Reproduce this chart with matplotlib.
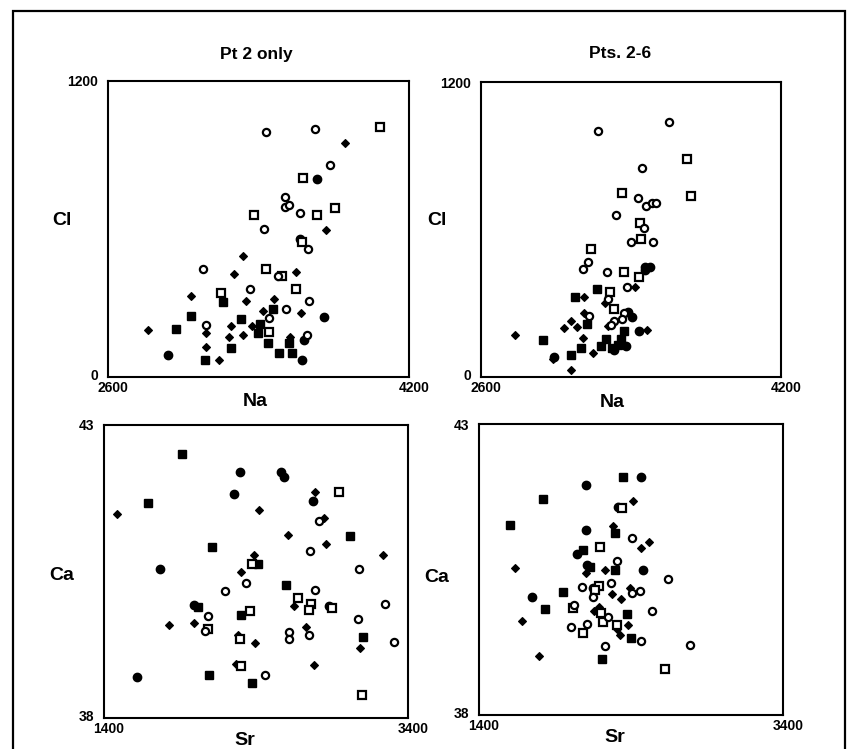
import numpy as np
import matplotlib.pyplot as plt
from matplotlib.patches import Rectangle
from matplotlib.transforms import ScaledTranslation

plt.rcParams['font.family'] = ['Liberation Sans', 'DejaVu Sans']
plt.rcParams['font.weight'] = 'bold'

# ---- Cl vs Na, Pt 2 only ----
p1_open_circle = [(3438, 992), (3700, 1007), (3779, 858), (3539, 729), (3539, 688),
                  (3561, 697), (3621, 666), (3428, 599), (3662, 519), (3107, 439),
                  (3669, 308), (3456, 238), (3119, 210), (3356, 358), (3548, 277),
                  (3656, 169), (3504, 408)]
p1_open_square = [(4046, 1015), (3638, 807), (3378, 657), (3709, 656), (3807, 686),
                  (3440, 439), (3523, 408), (3598, 357), (3199, 339), (3456, 181),
                  (3630, 549)]
p1_filled_square = [(3211, 305), (3040, 246), (2961, 195), (3309, 236), (3477, 276),
                    (3406, 216), (3399, 180), (3254, 119), (3449, 137), (3561, 138),
                    (3511, 97), (3578, 97), (3116, 70)]
p1_filled_circle = [(3709, 804), (3621, 559), (3750, 244), (2917, 88), (3631, 68),
                    (3642, 150)]
p1_diamond = [(3861, 947), (3759, 597), (3319, 491), (3271, 419), (3601, 427),
              (3040, 330), (3334, 308), (3484, 317), (3426, 268), (3628, 258),
              (2813, 191), (3254, 207), (3364, 207), (3121, 180), (3245, 161),
              (3316, 169), (3121, 120), (3192, 70), (3568, 162)]

# ---- Cl vs Na, Pts. 2-6 ----
p2_open_circle = [(3224, 1002), (3601, 1039), (3460, 850), (3439, 728), (3478, 696),
                  (3510, 707), (3533, 707), (3320, 658), (3471, 607), (3400, 549),
                  (3519, 549), (3172, 469), (3146, 438), (3274, 427), (3379, 367),
                  (3279, 316), (3178, 248), (3364, 259), (3350, 236), (3311, 227),
                  (3293, 213)]
p2_open_square = [(3697, 887), (3718, 735), (3352, 749), (3448, 626), (3452, 561),
                  (3185, 521), (3363, 427), (3444, 407), (3288, 346), (3309, 277)]
p2_filled_circle = [(3473, 449), (3503, 449), (3476, 435), (3441, 188), (3372, 127),
                    (3311, 110), (2989, 80), (3386, 264), (3404, 245)]
p2_filled_square = [(3220, 357), (3103, 327), (3164, 216), (3361, 188), (3265, 156),
                    (2929, 149), (3132, 117), (3242, 126), (3347, 153), (3329, 130),
                    (3300, 117), (3078, 88)]
p2_diamond = [(2781, 170), (3151, 327), (3420, 367), (3261, 300), (3151, 259),
              (3078, 228), (3041, 199), (3110, 205), (3142, 159), (3199, 99),
              (3082, 27), (3487, 191), (3276, 209), (2982, 72)]

# ---- Ca vs Sr, Pt 2 only ----
p3_filled_square = [(1911, 42.50), (1691, 41.66), (2113, 40.91), (3018, 41.10),
                    (2595, 40.27), (2411, 40.62), (2020, 39.89), (2299, 39.75),
                    (3102, 39.38), (2091, 38.73), (2376, 38.59)]
p3_open_square = [(2944, 41.85), (2376, 40.62), (2674, 40.05), (2760, 39.95),
                  (2749, 39.84), (2902, 39.87), (2361, 39.83), (2082, 39.51),
                  (2295, 39.34), (2301, 38.88), (3095, 38.40)]
p3_filled_circle = [(2297, 42.19), (2563, 42.19), (2584, 42.11), (2257, 41.82),
                    (2773, 41.70), (1768, 40.54), (1615, 38.69), (1994, 39.92),
                    (2882, 39.91)]
p3_open_circle = [(2816, 41.36), (2757, 40.84), (3080, 40.53), (2332, 40.30),
                  (2194, 40.16), (2790, 40.18), (3247, 39.94), (2082, 39.74),
                  (3069, 39.68), (2617, 39.46), (2617, 39.34), (2751, 39.41),
                  (2066, 39.49), (3308, 39.30), (2457, 38.74)]
p3_diamond = [(1488, 41.47), (2788, 41.85), (2420, 41.54), (2847, 41.41),
              (2613, 41.12), (2859, 40.96), (3236, 40.78), (2387, 40.77),
              (2299, 40.49), (1826, 39.58), (1994, 39.62), (2650, 39.91),
              (2731, 39.55), (2282, 39.41), (2395, 39.28), (3084, 39.20),
              (2268, 38.92), (2780, 38.90)]

# ---- Ca vs Sr, Pts. 2-6 ----
p4_filled_square = [(2349, 42.09), (1823, 41.71), (1604, 41.26), (2295, 41.13),
                    (2086, 40.84), (2130, 40.55), (2297, 40.50), (1951, 40.11),
                    (1836, 39.82), (2400, 39.32), (2207, 38.96), (2372, 39.74)]
p4_open_square = [(2343, 41.56), (2196, 40.89), (2188, 40.22), (2165, 40.14),
                  (2020, 39.84), (2201, 39.75), (2218, 39.59), (2310, 39.55),
                  (2082, 39.41), (2626, 38.79)]
p4_filled_circle = [(2468, 42.09), (2106, 41.96), (2106, 41.18), (2314, 41.58),
                    (2043, 40.76), (2113, 40.58), (2477, 40.50), (1747, 40.03),
                    (2152, 40.19)]
p4_open_circle = [(2405, 41.04), (2306, 40.65), (2641, 40.34), (2078, 40.20),
                  (2268, 40.27), (2459, 40.13), (2407, 40.09), (2148, 40.03),
                  (2538, 39.79), (2027, 39.89), (2005, 39.52), (2109, 39.57),
                  (2464, 39.28), (2231, 39.18), (2790, 39.21), (2249, 39.69)]
p4_diamond = [(2411, 41.68), (2284, 41.24), (2464, 40.87), (2518, 40.97),
              (1635, 40.53), (2227, 40.49), (2104, 40.44), (2275, 40.08),
              (2332, 39.99), (2393, 40.18), (2188, 39.85), (2155, 39.78),
              (1683, 39.61), (2380, 39.55), (2306, 39.47), (2328, 39.37),
              (1797, 39.02)]

na_range = (2600, 4200)
cl_range = (0, 1200)
sr_range = (1400, 3400)
ca_range = (38, 43)

styles = {
    "filled_square": dict(marker="s", ms=6, mfc="black", mec="black", mew=1.0),
    "open_square": dict(marker="s", ms=5.5, mfc="white", mec="black", mew=1.6),
    "filled_circle": dict(marker="o", ms=6, mfc="black", mec="black", mew=1.0),
    "open_circle": dict(marker="o", ms=5.2, mfc="white", mec="black", mew=1.6),
    "diamond": dict(marker="D", ms=3.6, mfc="black", mec="black", mew=0.8),
}

fig = plt.figure(figsize=(8.49, 7.49), dpi=100)

# outer frame
fig.add_artist(Rectangle((13 / 849, -0.02), 832 / 849, 1 - 11 / 749 + 0.02,
                         transform=fig.transFigure, fill=False, lw=1.6, color="black"))


def draw_panel(rect, groups, xr, yr, xlabel, ylabel, xlab_pos, ylab_pos):
    ax = fig.add_axes(rect)
    for kind, pts in groups:
        pts = np.array(pts)
        ax.plot(pts[:, 0], pts[:, 1], ls="none", **styles[kind])
    ax.set_xlim(*xr)
    ax.set_ylim(*yr)
    ax.set_xticks(list(xr))
    ax.set_yticks(list(yr))
    ax.set_xticklabels([str(v) for v in xr])
    ax.set_yticklabels([str(v) for v in yr])
    ax.tick_params(length=0, labelsize=10)
    ax.tick_params(axis="x", pad=3)
    ax.tick_params(axis="y", pad=7)
    for lab in ax.get_xticklabels():
        lab.set_fontweight("bold")
        lab.set_transform(lab.get_transform() + ScaledTranslation(0.05, 0, fig.dpi_scale_trans))
    ylabs = ax.get_yticklabels()
    for lab in ylabs:
        lab.set_fontweight("bold")
    # lower y label sits a little above the corner
    ylabs[0].set_transform(ylabs[0].get_transform() + ScaledTranslation(0, 0.03, fig.dpi_scale_trans))
    for s in ax.spines.values():
        s.set_linewidth(1.5)
    ax.text(xlab_pos[0], xlab_pos[1], xlabel, transform=ax.transAxes,
            ha="center", va="center", fontsize=14, fontweight="bold")
    ax.text(ylab_pos[0], ylab_pos[1], ylabel, transform=ax.transAxes,
            ha="center", va="center", fontsize=14, fontweight="bold")
    return ax


draw_panel([108 / 849, 1 - 377 / 749, 301 / 849, 296 / 749],
           [("filled_square", p1_filled_square), ("filled_circle", p1_filled_circle),
            ("diamond", p1_diamond), ("open_square", p1_open_square),
            ("open_circle", p1_open_circle)],
           na_range, cl_range, "Na", "Cl", (0.488, -0.084), (-0.153, 0.53))

draw_panel([481 / 849, 1 - 377 / 749, 300 / 849, 295 / 749],
           [("filled_square", p2_filled_square), ("filled_circle", p2_filled_circle),
            ("diamond", p2_diamond), ("open_square", p2_open_square),
            ("open_circle", p2_open_circle)],
           na_range, cl_range, "Na", "Cl", (0.437, -0.088), (-0.147, 0.53))

draw_panel([104 / 849, 1 - 718 / 749, 304 / 849, 293.5 / 749],
           [("filled_square", p3_filled_square), ("filled_circle", p3_filled_circle),
            ("diamond", p3_diamond), ("open_square", p3_open_square),
            ("open_circle", p3_open_circle)],
           sr_range, ca_range, "Sr", "Ca", (0.464, -0.075), (-0.138, 0.484))

draw_panel([479 / 849, 1 - 715 / 749, 304 / 849, 291 / 749],
           [("filled_square", p4_filled_square), ("filled_circle", p4_filled_circle),
            ("diamond", p4_diamond), ("open_square", p4_open_square),
            ("open_circle", p4_open_circle)],
           sr_range, ca_range, "Sr", "Ca", (0.447, -0.076), (-0.138, 0.474))

fig.text(256 / 849, 1 - 54 / 749, "Pt 2 only", ha="center", va="center",
         fontsize=12.5, fontweight="bold")
fig.text(620 / 849, 1 - 54 / 749, "Pts. 2-6", ha="center", va="center",
         fontsize=12.5, fontweight="bold")

fig.savefig("out.png", dpi=100)
